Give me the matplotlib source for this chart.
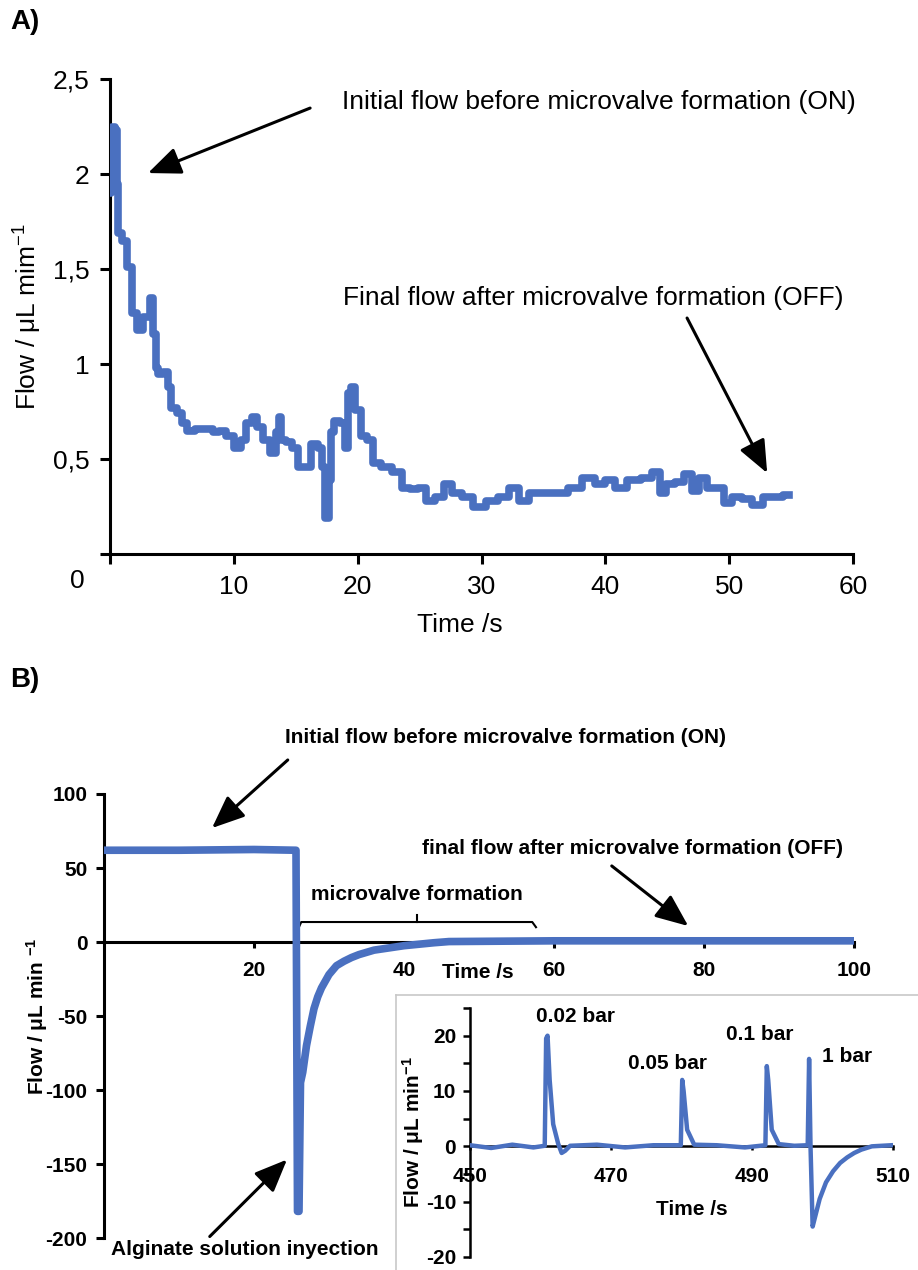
import matplotlib
matplotlib.use("Agg")
import matplotlib.pyplot as plt

plt.rcParams['font.family'] = ['Liberation Sans', 'DejaVu Sans']
plt.rcParams['axes.unicode_minus'] = False
plt.rcParams['mathtext.default'] = 'regular'

BLUE = '#4a70c0'

# ---- panel A: flow after microvalve formation (time s, flow uL/min)
time_a = [0, 0.1, 0.25, 0.5, 0.55, 0.75, 1.2, 1.6, 1.9, 2.4,
          3.0, 3.4, 3.6, 3.8, 4.0, 4.6, 4.8, 5.1, 5.7, 5.9,
          6.5, 7.3, 8.1, 8.6, 9.0, 9.7, 10.4, 10.8, 11.2, 11.7,
          12.1, 12.6, 13.2, 13.6, 13.7, 13.9, 14.5, 14.9, 15.5, 15.9,
          16.6, 17.0, 17.2, 17.5, 17.8, 17.9, 18.3, 18.8, 19.1, 19.4,
          19.6, 20.0, 20.5, 21.0, 21.5, 22.3, 23.2, 24.0, 24.5, 25.3,
          25.8, 26.7, 27.3, 28.0, 28.8, 29.9, 30.9, 31.8, 32.6, 33.4,
          34.2, 36.6, 37.4, 38.8, 39.6, 40.4, 41.2, 42.3, 43.4, 44.2,
          44.6, 45.2, 46.0, 46.7, 47.3, 47.9, 48.5, 49.3, 49.8, 50.6,
          51.4, 52.3, 53.1, 53.9, 54.8]
flow_a = [1.90, 2.07, 2.25, 2.23, 1.95, 1.69, 1.65, 1.51, 1.27, 1.18,
          1.25, 1.35, 1.16, 0.98, 0.95, 0.96, 0.88, 0.77, 0.74, 0.69,
          0.65, 0.66, 0.66, 0.64, 0.65, 0.62, 0.56, 0.60, 0.69, 0.72,
          0.67, 0.60, 0.53, 0.64, 0.72, 0.60, 0.59, 0.56, 0.46, 0.46,
          0.58, 0.56, 0.46, 0.19, 0.39, 0.64, 0.70, 0.69, 0.56, 0.85,
          0.88, 0.76, 0.62, 0.60, 0.48, 0.46, 0.43, 0.35, 0.34, 0.35,
          0.28, 0.30, 0.37, 0.32, 0.30, 0.25, 0.28, 0.30, 0.35, 0.28,
          0.32, 0.32, 0.35, 0.40, 0.37, 0.39, 0.35, 0.39, 0.40, 0.43,
          0.32, 0.37, 0.38, 0.42, 0.33, 0.40, 0.35, 0.35, 0.27, 0.30,
          0.29, 0.26, 0.30, 0.30, 0.31]
ticks_a_x = [0, 10, 20, 30, 40, 50, 60]
ticks_a_y = [0, 0.5, 1, 1.5, 2, 2.5]
labels_a_y = ['', '0,5', '1', '1,5', '2', '2,5']

# ---- panel B: main trace
time_b = [0, 10, 20, 25.6, 25.8, 26.0, 26.2, 26.5, 27, 27.5,
          28, 28.5, 29, 30, 31, 32, 33, 34, 35, 36,
          38, 40, 42, 44, 46, 60, 80, 100]
flow_b = [62, 62, 62.5, 62, -182, -182, -95, -88, -70, -57,
          -45, -37, -31, -22, -16, -13, -10.5, -8.5, -7, -5.5,
          -4, -2.5, -1.5, -0.5, 0.3, 0.8, 0.8, 0.8]
ticks_b_x = [20, 40, 60, 80, 100]
ticks_b_y = [-200, -150, -100, -50, 0, 50, 100]

# ---- panel B inset: pressure pulses
time_in = [450, 453, 456, 459, 460.6, 460.8, 461.0, 461.3, 461.8, 462.5,
           463.0, 463.5, 464.2, 468, 472, 476, 479.9, 480.1, 480.3, 480.8,
           481.8, 485, 489, 491.9, 492.1, 492.3, 492.8, 493.8, 496, 497.9,
           498.1, 498.3, 498.6, 499.0, 499.6, 500.5, 501.5, 502.5, 503.5, 504.5,
           505.5, 507, 509.8]
flow_in = [0.2, -0.3, 0.3, -0.2, 0.1, 19.5, 20, 12, 4, 0.5,
           -1.2, -0.8, 0.1, 0.3, -0.2, 0.2, 0.2, 12, 10, 3,
           0.3, 0.2, -0.2, 0.2, 14.5, 12, 3, 0.4, 0.1, 0.2,
           15.8, 0, -14.5, -12.5, -9.5, -6.5, -4.5, -3, -2, -1.2,
           -0.6, 0, 0.2]
ticks_in_x = [450, 470, 490, 510]
ticks_in_y = [-20, -15, -10, -5, 0, 5, 10, 15, 20, 25]
labels_in_y = ['-20', '', '-10', '', '0', '', '10', '', '20', '']
pulse_labels = ['0.02 bar', '0.05 bar', '0.1 bar', '1 bar']
pulse_pos = [(464.9, 23.5), (478.0, 15.0), (491.1, 20.3), (503.5, 16.2)]

W, H = 918, 1270
fig = plt.figure(figsize=(W / 100, H / 100), dpi=100)

def frac(x0, y0, x1, y1):
    return [x0 / W, 1 - y1 / H, (x1 - x0) / W, (y1 - y0) / H]

arrow = dict(arrowstyle='-|>,head_length=1.0,head_width=0.42', color='k',
             lw=2.2, mutation_scale=20, shrinkA=0, shrinkB=0)

# ================= A =================
fs_a = 19
ax = fig.add_axes(frac(110, 79, 853, 554))
ax.plot(time_a, flow_a, color=BLUE, lw=5.5, drawstyle='steps-mid', zorder=3)
ax.set_xlim(0, 60)
ax.set_ylim(0, 2.5)
ax.spines[['top', 'right']].set_visible(False)
for s in ['left', 'bottom']:
    ax.spines[s].set_linewidth(2.2)
ax.set_xticks(ticks_a_x)
ax.set_xticklabels([''] + [str(t) for t in ticks_a_x[1:]])
ax.set_yticks(ticks_a_y)
ax.set_yticklabels(labels_a_y)
ax.tick_params(direction='out', length=7, width=2.2, labelsize=fs_a,
               pad=8, colors='k')
ax.text(-2.6, -0.14, '0', fontsize=fs_a, ha='center', va='center')
ax.set_xlabel('Time /s', fontsize=fs_a)
ax.xaxis.set_label_coords(0.471, -0.125)
ax.set_ylabel('Flow / μL mim$^{-1}$', fontsize=fs_a)
ax.yaxis.set_label_coords(-0.089, 0.5)

ax.text(18.74, 2.379, 'Initial flow before microvalve formation (ON)',
        fontsize=fs_a, ha='left', va='center')
ax.annotate('', xy=(3.07, 2.005), xytext=(16.16, 2.347), arrowprops=arrow)
ax.text(18.8, 1.347, 'Final flow after microvalve formation (OFF)',
        fontsize=fs_a, ha='left', va='center')
ax.annotate('', xy=(53.07, 0.426), xytext=(46.6, 1.242), arrowprops=arrow)

fig.text(10 / W, 1 - 22 / H, 'A)', fontsize=20, fontweight='bold',
         ha='left', va='center')
fig.text(10 / W, 1 - 680 / H, 'B)', fontsize=20, fontweight='bold',
         ha='left', va='center')

# ================= B =================
fs_b = 15
bx = fig.add_axes(frac(104, 794, 854, 1238))
bx.plot(time_b, flow_b, color=BLUE, lw=5.5, zorder=3)
bx.set_xlim(0, 100)
bx.set_ylim(-200, 100)
bx.spines[['top', 'right']].set_visible(False)
bx.spines['bottom'].set_position(('data', 0))
for s in ['left', 'bottom']:
    bx.spines[s].set_linewidth(2.2)
bx.set_xticks(ticks_b_x)
bx.set_yticks(ticks_b_y)
bx.tick_params(axis='x', direction='out', length=4, width=2.2, pad=10)
bx.tick_params(axis='y', direction='out', length=6, width=2.2, pad=6)
for lab in bx.get_xticklabels() + bx.get_yticklabels():
    lab.set_fontsize(fs_b)
    lab.set_fontweight('bold')
bx.set_ylabel('Flow / μL min $^{-1}$', fontsize=fs_b, fontweight='bold')
bx.yaxis.set_label_coords(-0.072, 0.5)
bx.text(49.9, -20.3, 'Time /s', fontsize=fs_b, fontweight='bold',
        ha='center', va='center')

bx.text(53.5, 138.5, 'Initial flow before microvalve formation (ON)',
        fontsize=fs_b, fontweight='bold', ha='center', va='center')
bx.annotate('', xy=(14.4, 77), xytext=(24.5, 123), arrowprops=arrow)
bx.text(70.5, 63.5, 'final flow after microvalve formation (OFF)',
        fontsize=fs_b, fontweight='bold', ha='center', va='center')
bx.annotate('', xy=(77.9, 10.8), xytext=(67.7, 51.4), arrowprops=arrow)
bx.text(18.8, -207.5, 'Alginate solution inyection',
        fontsize=fs_b, fontweight='bold', ha='center', va='center')
bx.annotate('', xy=(24.4, -147), xytext=(14.1, -199), arrowprops=arrow)

# brace over the formation period
brace_x0, brace_x1, brace_mid, brace_y = 25.9, 57.6, 41.7, 13.5
bx.plot([brace_x0, brace_x0 + 0.4, brace_x1 - 0.5, brace_x1],
        [brace_y - 4.5, brace_y, brace_y, brace_y - 3.5], color='k', lw=1.5)
bx.plot([brace_mid, brace_mid], [brace_y, brace_y + 4.5], color='k', lw=1.5)
bx.text(brace_mid, 31.8, 'microvalve formation', fontsize=fs_b,
        fontweight='bold', ha='center', va='center')

# ================= inset =================
bg = fig.add_axes([396 / W, -0.01, 1 - 396 / W + 0.01, (1270 - 995) / H + 0.01])
bg.set_xticks([])
bg.set_yticks([])
for s in bg.spines.values():
    s.set_color('#c8c8c8')
    s.set_linewidth(1.2)

ix = fig.add_axes(frac(470, 1008, 893, 1257))
ix.patch.set_alpha(0)
ix.plot(time_in, flow_in, color=BLUE, lw=3.2, zorder=3)
ix.set_xlim(450, 510)
ix.set_ylim(-20, 25)
ix.spines[['top', 'right']].set_visible(False)
ix.spines['bottom'].set_position(('data', 0))
for s in ['left', 'bottom']:
    ix.spines[s].set_linewidth(1.8)
ix.set_xticks(ticks_in_x)
ix.set_yticks(ticks_in_y)
ix.set_yticklabels(labels_in_y)
ix.tick_params(axis='x', direction='out', length=3, width=1.8, pad=12)
ix.tick_params(axis='y', direction='out', length=5, width=1.8, pad=5)
for lab in ix.get_xticklabels() + ix.get_yticklabels():
    lab.set_fontsize(fs_b)
    lab.set_fontweight('bold')
ix.set_ylabel('Flow / μL min$^{-1}$', fontsize=fs_b, fontweight='bold')
ix.yaxis.set_label_coords(-0.105, 0.5)
ix.text(481.5, -11.5, 'Time /s', fontsize=fs_b, fontweight='bold',
        ha='center', va='center')
for lab, (px, py) in zip(pulse_labels, pulse_pos):
    ix.text(px, py, lab, fontsize=fs_b, fontweight='bold',
            ha='center', va='center')

fig.savefig('out.png', dpi=100)
